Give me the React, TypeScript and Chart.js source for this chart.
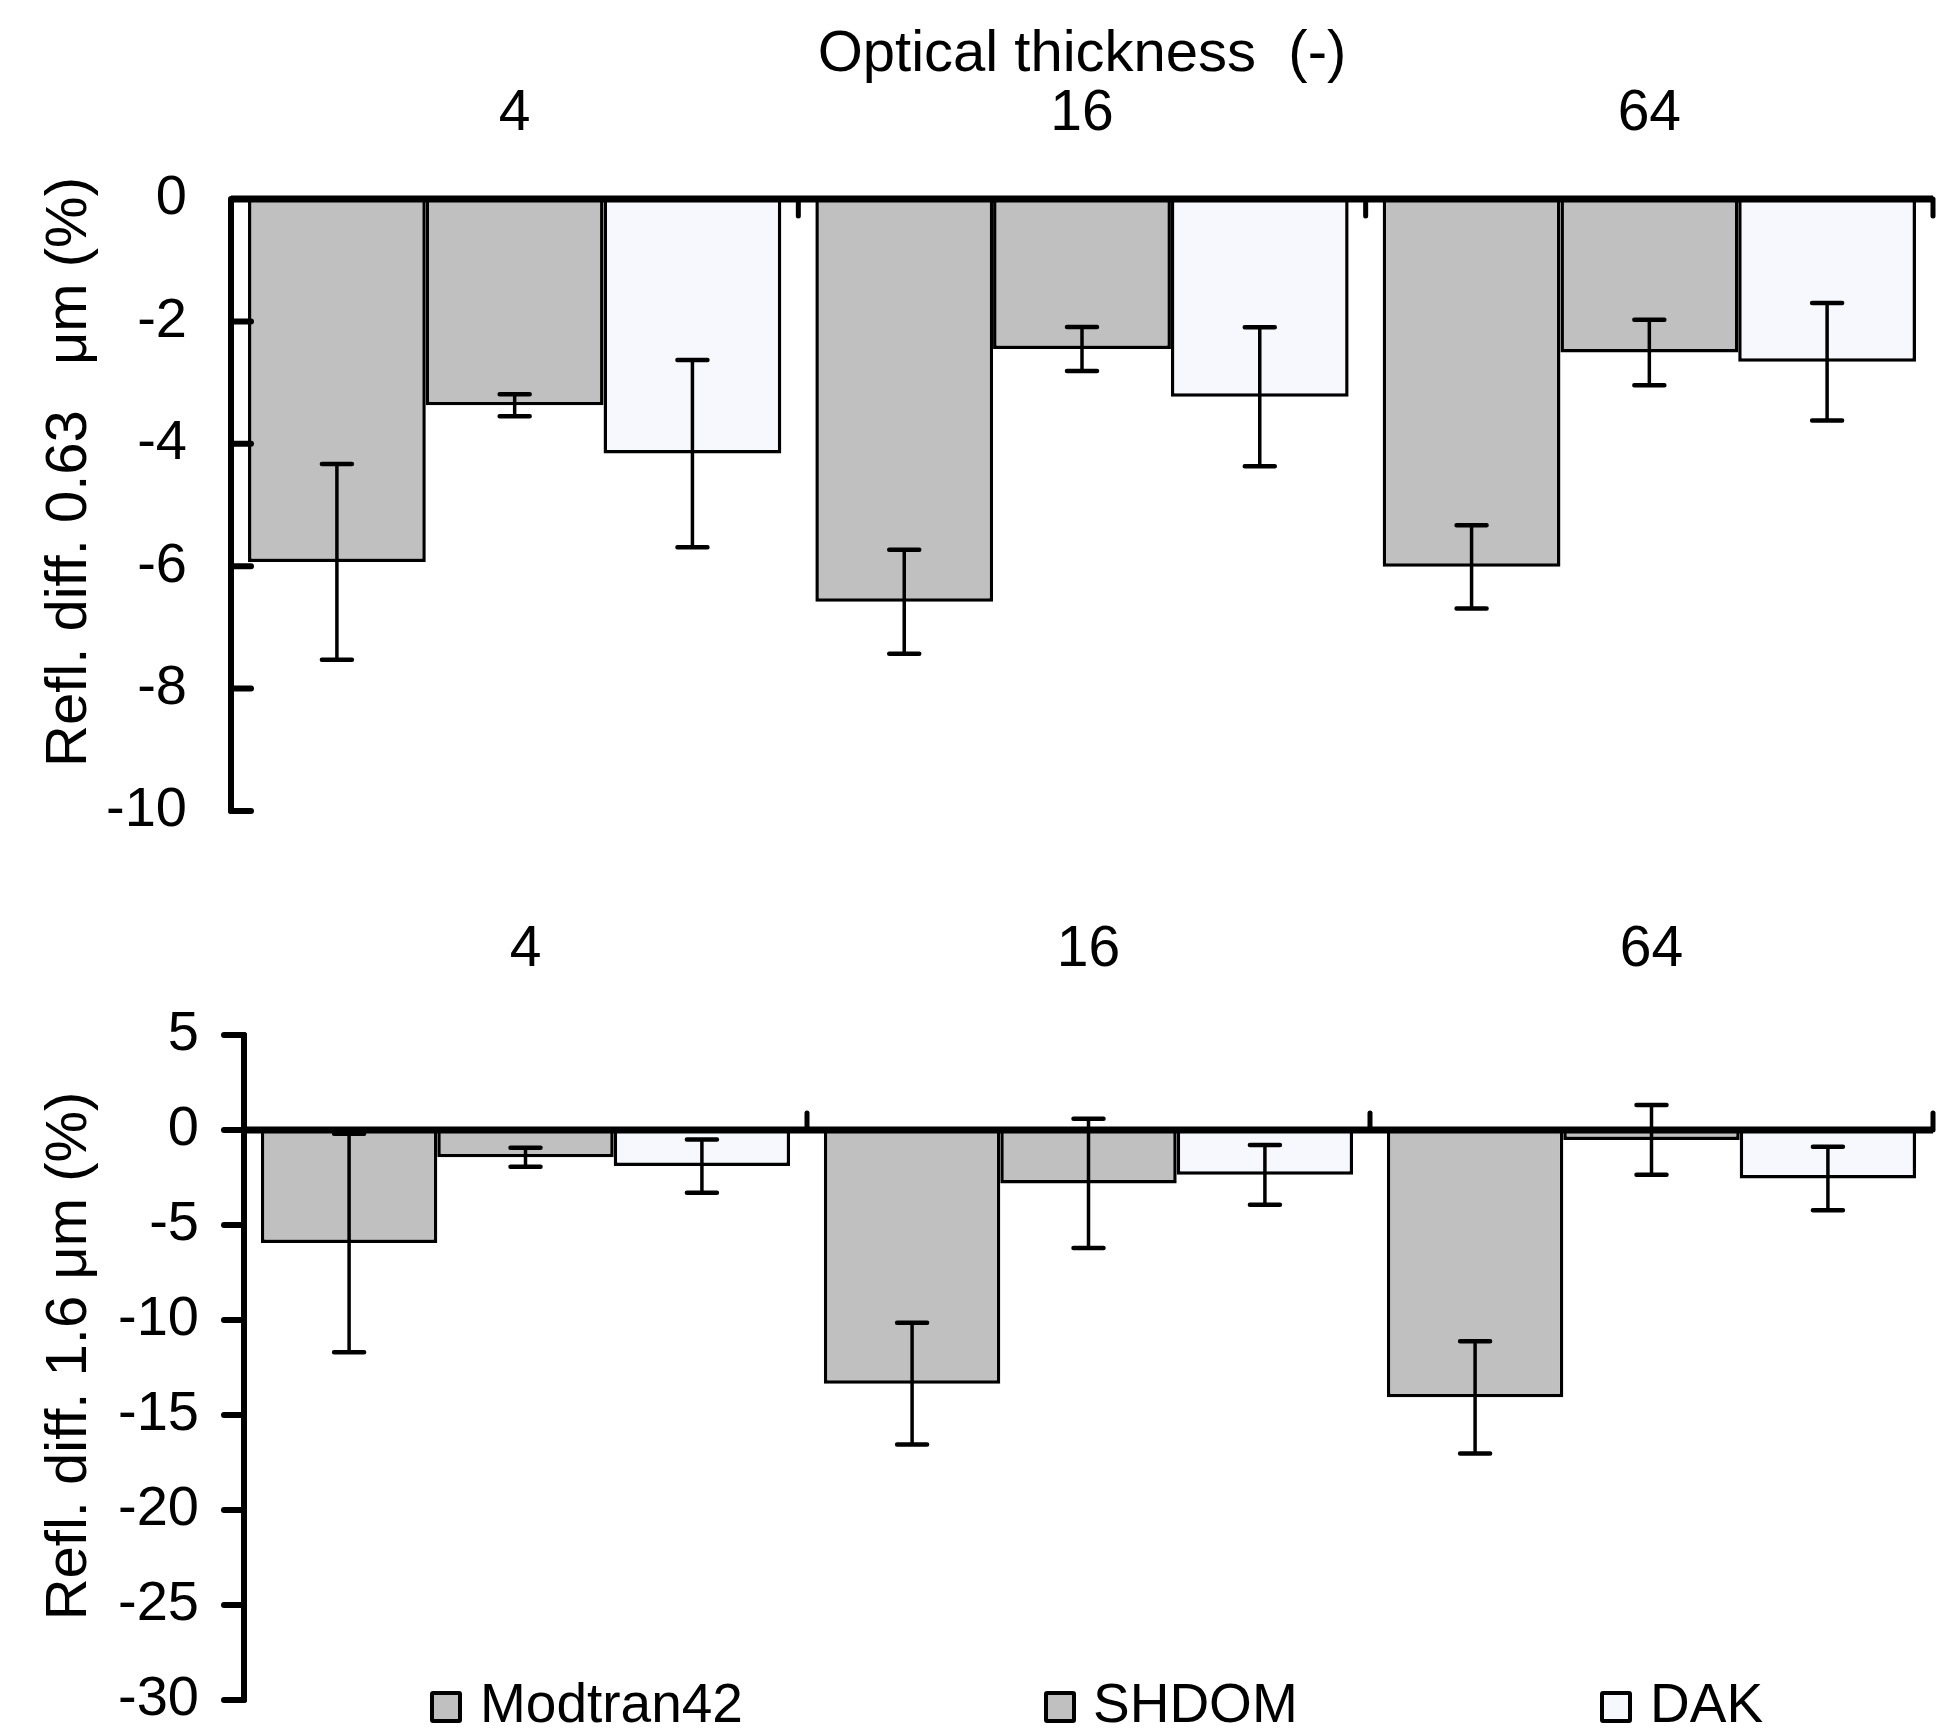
import React, { useEffect, useRef } from 'react';
import { Chart, registerables } from 'chart.js';

Chart.register(...registerables);

const FONT = "'Liberation Sans', Arial, sans-serif";

// ---- data ----
const categories = ['4', '16', '64'];
const seriesNames = ['Modtran42', 'SHDOM', 'DAK'];
const seriesColors = ['#c0c0c0', '#c0c0c0', '#f7f8fd'];

// 0.63 µm panel
const modtran063 = [-5.93, -6.58, -6.01];
const shdom063 = [-3.37, -2.45, -2.51];
const dak063 = [-4.16, -3.23, -2.66];
const modtran063Err = [1.6, 0.85, 0.68];
const shdom063Err = [0.18, 0.36, 0.535];
const dak063Err = [1.53, 1.135, 0.96];

// 1.6 µm panel
const modtran16 = [-5.95, -13.35, -14.07];
const shdom16 = [-1.44, -2.81, -0.52];
const dak16 = [-1.9, -2.36, -2.55];
const modtran16Err = [5.75, 3.2, 2.95];
const shdom16Err = [0.5, 3.4, 1.83];
const dak16Err = [1.4, 1.57, 1.67];

const xTitle = 'Optical thickness  (-)';
const yTitleTop = 'Refl. diff. 0.63 \u2002\u03bcm (%)';
const yTitleBottom = 'Refl. diff. 1.6 \u03bcm (%)';

// ---- plugins ----
const errorBarPlugin = {
  id: 'errorBars',
  afterDatasetsDraw(chart: any, _args: any, opts: any) {
    const { ctx } = chart;
    const y = chart.scales.y;
    ctx.save();
    ctx.strokeStyle = '#000';
    chart.data.datasets.forEach((ds: any, d: number) => {
      const meta = chart.getDatasetMeta(d);
      const errs = opts.errors[d];
      meta.data.forEach((el: any, i: number) => {
        const v = ds.data[i];
        const e = errs[i];
        const yTop = y.getPixelForValue(v + e);
        const yBot = y.getPixelForValue(v - e);
        const x = el.x;
        ctx.lineWidth = 3.5;
        ctx.lineCap = 'butt';
        ctx.beginPath();
        ctx.moveTo(x, yTop);
        ctx.lineTo(x, yBot);
        ctx.stroke();
        ctx.lineWidth = 4.5;
        ctx.lineCap = 'round';
        ctx.beginPath();
        ctx.moveTo(x - 15, yTop);
        ctx.lineTo(x + 15, yTop);
        ctx.moveTo(x - 15, yBot);
        ctx.lineTo(x + 15, yBot);
        ctx.stroke();
      });
    });
    ctx.restore();
  },
};

const axesPlugin = {
  id: 'customAxes',
  afterDatasetsDraw(chart: any, _args: any, opts: any) {
    const { ctx, chartArea } = chart;
    const xs = chart.scales.x;
    const ys = chart.scales.y;
    const left = chartArea.left;
    const right = chartArea.right;
    const y0 = ys.getPixelForValue(0);
    ctx.save();
    ctx.strokeStyle = '#000';
    // y axis line
    ctx.lineWidth = 6;
    ctx.lineCap = 'round';
    ctx.beginPath();
    ctx.moveTo(left, ys.getPixelForValue(ys.max));
    ctx.lineTo(left, ys.getPixelForValue(ys.min));
    ctx.stroke();
    // y tick marks
    ys.ticks.forEach((t: any) => {
      const py = ys.getPixelForValue(t.value);
      if (opts.tickDir === 'in') {
        if (t.value === 0) return;
        ctx.beginPath();
        ctx.moveTo(left, py);
        ctx.lineTo(left + opts.tickLen, py);
        ctx.stroke();
      } else {
        ctx.beginPath();
        ctx.moveTo(left - opts.tickLen, py);
        ctx.lineTo(left, py);
        ctx.stroke();
      }
    });
    // zero line
    ctx.lineWidth = 7;
    ctx.lineCap = 'butt';
    ctx.beginPath();
    ctx.moveTo(left, y0);
    ctx.lineTo(right, y0);
    ctx.stroke();
    // category separators
    ctx.lineWidth = 5;
    ctx.lineCap = 'round';
    const n = chart.data.labels.length;
    for (let i = 1; i <= n; i++) {
      const px = i < n ? (xs.getPixelForValue(i - 1) + xs.getPixelForValue(i)) / 2 : right;
      ctx.beginPath();
      ctx.moveTo(px, y0);
      ctx.lineTo(px, y0 + opts.sepDir * opts.sepLen);
      ctx.stroke();
    }
    ctx.restore();
  },
};

const yTitlePlugin = {
  id: 'yTitle',
  afterDraw(chart: any, _args: any, opts: any) {
    const { ctx } = chart;
    ctx.save();
    ctx.translate(opts.x, opts.y);
    ctx.rotate(-Math.PI / 2);
    ctx.font = `${opts.size}px ${FONT}`;
    ctx.fillStyle = '#000';
    ctx.textAlign = 'center';
    ctx.textBaseline = 'middle';
    ctx.fillText(opts.text, 0, 0);
    ctx.restore();
  },
};

function makeConfig(p: {
  values: number[][];
  errors: number[][];
  min: number;
  max: number;
  step: number;
  yWidth: number;
  xHeight: number;
  padRight: number;
  padBottom: number;
  labelGap: number;
  yLabelGap: number;
  showXTitle: boolean;
  tickDir: 'in' | 'out';
  sepDir: number;
  yTitle: string;
  yTitleX: number;
  yTitleY: number;
}): any {
  return {
    type: 'bar',
    data: {
      labels: categories,
      datasets: seriesNames.map((name, i) => ({
        label: name,
        data: p.values[i],
        backgroundColor: seriesColors[i],
        borderColor: '#000',
        borderWidth: 3.5,
        barPercentage: 1.0,
        categoryPercentage: 0.94,
      })),
    },
    options: {
      animation: false,
      responsive: false,
      maintainAspectRatio: false,
      devicePixelRatio: 1,
      layout: { padding: { left: 0, top: 0, right: p.padRight, bottom: p.padBottom } },
      plugins: {
        legend: { display: false },
        tooltip: { enabled: false },
        errorBars: { errors: p.errors },
        customAxes: { tickDir: p.tickDir, tickLen: 20, sepDir: p.sepDir, sepLen: 17 },
        yTitle: { text: p.yTitle, x: p.yTitleX, y: p.yTitleY, size: 58 },
      },
      scales: {
        x: {
          position: 'top',
          offset: true,
          grid: { display: false, drawTicks: true, tickLength: p.labelGap },
          border: { display: false },
          ticks: {
            color: '#000',
            padding: 0,
            font: { family: FONT, size: 57, lineHeight: 1 },
          },
          title: {
            display: p.showXTitle,
            text: xTitle,
            color: '#000',
            padding: { top: 26, bottom: 0 },
            font: { family: FONT, size: 58, lineHeight: 1 },
          },
          afterFit: (s: any) => {
            s.height = p.xHeight;
          },
        },
        y: {
          min: p.min,
          max: p.max,
          grid: { display: false, drawTicks: true, tickLength: p.yLabelGap },
          border: { display: false },
          ticks: {
            stepSize: p.step,
            color: '#000',
            padding: 0,
            font: { family: FONT, size: 56, lineHeight: 1 },
          },
          afterFit: (s: any) => {
            s.width = p.yWidth;
          },
        },
      },
    },
    plugins: [errorBarPlugin, axesPlugin, yTitlePlugin],
  };
}

function ChartCanvas({ top, height, config }: { top: number; height: number; config: any }) {
  const ref = useRef<HTMLCanvasElement | null>(null);
  useEffect(() => {
    if (!ref.current) return;
    const chart = new Chart(ref.current, config);
    return () => chart.destroy();
  }, [config]);
  return (
    <canvas
      ref={ref}
      width={1949}
      height={height}
      style={{ position: 'absolute', left: 0, top, width: 1949, height, display: 'block' }}
    />
  );
}

const topConfig = makeConfig({
  values: [modtran063, shdom063, dak063],
  errors: [modtran063Err, shdom063Err, dak063Err],
  min: -10,
  max: 0,
  step: 2,
  yWidth: 231,
  xHeight: 199,
  padRight: 16,
  padBottom: 69,
  labelGap: 56,
  yLabelGap: 44,
  showXTitle: true,
  tickDir: 'in',
  sepDir: 1,
  yTitle: yTitleTop,
  yTitleX: 70,
  yTitleY: 472,
});

const bottomConfig = makeConfig({
  values: [modtran16, shdom16, dak16],
  errors: [modtran16Err, shdom16Err, dak16Err],
  min: -30,
  max: 5,
  step: 5,
  yWidth: 244,
  xHeight: 155,
  padRight: 16,
  padBottom: 28,
  labelGap: 56,
  yLabelGap: 45,
  showXTitle: false,
  tickDir: 'out',
  sepDir: -1,
  yTitle: yTitleBottom,
  yTitleX: 70,
  yTitleY: 476,
});

const legendBoxX = [430, 1044, 1600];
const legendTextX = [480, 1093, 1650];

export default function App() {
  return (
    <div
      style={{
        position: 'absolute',
        left: 0,
        top: 0,
        width: 1949,
        height: 1728,
        overflow: 'hidden',
        background: '#fff',
        fontFamily: FONT,
      }}
    >
      <ChartCanvas top={0} height={880} config={topConfig} />
      <ChartCanvas top={880} height={848} config={bottomConfig} />
      {seriesNames.map((name, i) => (
        <React.Fragment key={name}>
          <div
            style={{
              position: 'absolute',
              left: legendBoxX[i],
              top: 1691,
              width: 32,
              height: 32,
              boxSizing: 'border-box',
              border: '4px solid #000',
              borderRadius: 3,
              background: seriesColors[i],
            }}
          />
          <div
            style={{
              position: 'absolute',
              left: legendTextX[i],
              top: 1675,
              fontSize: 55,
              lineHeight: '56px',
              whiteSpace: 'nowrap',
              color: '#000',
            }}
          >
            {name}
          </div>
        </React.Fragment>
      ))}
    </div>
  );
}
